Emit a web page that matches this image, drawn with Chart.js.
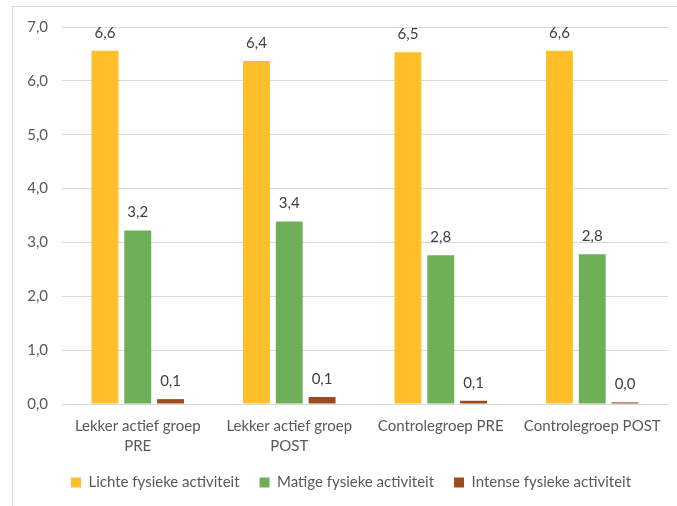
<!DOCTYPE html>
<html>
<head>
<meta charset="utf-8">
<script src="https://cdn.jsdelivr.net/npm/chart.js@4/dist/chart.umd.min.js"></script>
<style>
  html, body { margin: 0; padding: 0; background: #fff; }
  #frame { position: absolute; left: 12px; top: 6px; width: 700px; height: 520px; border: 1px solid #d9d9d9; }
  #wrap { position: absolute; left: 0; top: 0; width: 677px; height: 506px; }
</style>
</head>
<body>
<div id="frame"></div>
<div id="wrap"><canvas id="myChart"></canvas></div>
<script>
const groups = [["Lekker actief groep", "PRE"], ["Lekker actief groep", "POST"], "Controlegroep PRE", "Controlegroep POST"];
const lichte = [6.56, 6.37, 6.53, 6.56];
const matige = [3.22, 3.39, 2.76, 2.78];
const intense = [0.09, 0.13, 0.06, 0.03];
const yTicks = [0, 1, 2, 3, 4, 5, 6, 7];

const txtColor = "#595959";
const fontName = "Lato, 'Open Sans', sans-serif";

function comma(v) {
    return v.toFixed(1).replace(".", ",");
}

// draws the value above each bar, like the Excel data labels
const valueLabels = {
    id: "valueLabels",
    afterDatasetsDraw(chart) {
        const ctx = chart.ctx;
        ctx.save();
        ctx.font = "15px " + fontName;
        ctx.fillStyle = "#404040";
        ctx.textAlign = "center";
        ctx.textBaseline = "middle";
        chart.data.datasets.forEach((ds, i) => {
            chart.getDatasetMeta(i).data.forEach((bar, j) => {
                ctx.fillText(comma(ds.data[j]), bar.x, bar.y - 18);
            });
        });
        ctx.restore();
    }
};

// legend gets wide gaps between items but should not take that much height,
// and sits a bit right of the canvas centre like in Excel
const legendFix = {
    id: "legendFix",
    beforeInit(chart) {
        const fit = chart.legend.fit;
        chart.legend.fit = function () {
            fit.call(this);
            this.height = 51;
        };
    },
    afterLayout(chart) {
        chart.legend.left += 17;
        chart.legend.right += 17;
    }
};

new Chart("myChart", {
    type: "bar",
    data: {
        labels: groups,
        datasets: [{
            label: "Lichte fysieke activiteit",
            data: lichte,
            backgroundColor: "#FEBF2A"
        }, {
            label: "Matige fysieke activiteit",
            data: matige,
            backgroundColor: "#6DB058"
        }, {
            label: "Intense fysieke activiteit",
            data: intense,
            backgroundColor: "#9C4A1E"
        }]
    },
    plugins: [valueLabels, legendFix],
    options: {
        responsive: true,
        maintainAspectRatio: false,
        animation: false,
        categoryPercentage: 0.65,
        barPercentage: 0.82,
        layout: { padding: { top: 27, right: 9, bottom: 0, left: 0 } },
        plugins: {
            tooltip: { enabled: false },
            legend: {
                position: "bottom",
                labels: {
                    boxWidth: 10,
                    boxHeight: 10,
                    padding: 20,
                    color: txtColor,
                    font: { family: fontName, size: 15 }
                }
            }
        },
        scales: {
            x: {
                grid: { display: false, drawTicks: false },
                border: { display: false },
                ticks: {
                    color: txtColor,
                    padding: 12,
                    maxRotation: 0,
                    autoSkip: false,
                    font: { family: fontName, size: 15, lineHeight: 1.33 }
                },
                afterFit: (s) => { s.height = 51; }
            },
            y: {
                min: 0,
                max: 7,
                afterBuildTicks: (s) => { s.ticks = yTicks.map(v => ({ value: v })); },
                grid: { color: "#d9d9d9", lineWidth: 1, drawTicks: false },
                border: { display: false },
                ticks: {
                    color: txtColor,
                    padding: 14,
                    font: { family: fontName, size: 15 },
                    callback: (v) => comma(v)
                },
                afterFit: (s) => { s.width = 62; }
            }
        }
    }
});
</script>
</body>
</html>
